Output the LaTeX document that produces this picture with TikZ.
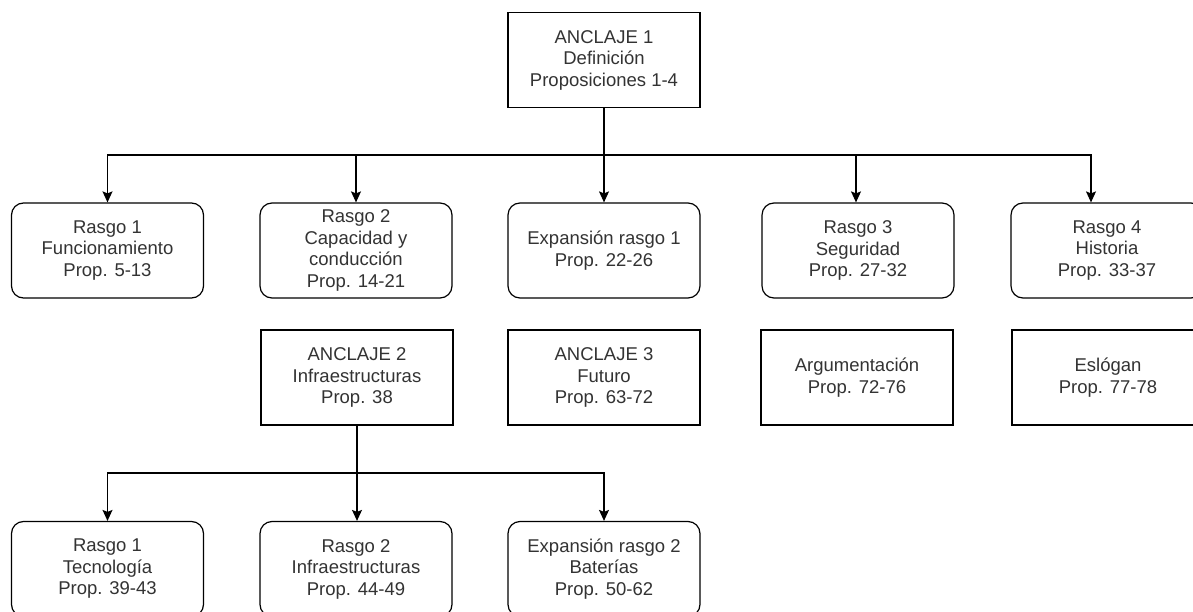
\documentclass[tikz,border=0pt]{standalone}
\usepackage{fontspec}
\setmainfont{Liberation Sans}
\usetikzlibrary{arrows.meta}
\definecolor{txt}{HTML}{333333}
\begin{document}
\begin{tikzpicture}[x=1pt,y=-1pt,
  box/.style={draw=black, line width=1.2pt, minimum width=192pt, minimum height=95pt,
    inner sep=0pt, align=center, text=txt, font=\fontsize{18.5}{21.5}\selectfont},
  rbox/.style={box, rounded corners=12pt},
  wire/.style={line width=1.2pt},
  link/.style={wire, -{Stealth[length=11pt,width=10pt,inset=2pt]}}]
\clip (0,0) rectangle (1193,612);
\fill[white] (0,0) rectangle (1193,612);

% top anchor
\node[box] (a1) at (604,60) {ANCLAJE 1\\Definición\\Proposiciones 1-4};

% first row of traits
\node[rbox] (r1) at (107.5,250.5) {Rasgo 1\\Funcionamiento\\Prop. 5-13};
\node[rbox] (r2) at (356,250.5) {Rasgo 2\\Capacidad y\\conducción\\Prop. 14-21};
\node[rbox] (r3) at (604,250.5) {Expansión rasgo 1\\Prop. 22-26};
\node[rbox] (r4) at (858,250.5) {Rasgo 3\\Seguridad\\Prop. 27-32};
\node[rbox] (r5) at (1107,250.5) {Rasgo 4\\Historia\\Prop. 33-37};

% second row of anchors
\node[box] (a2) at (357,377.5) {ANCLAJE 2\\Infraestructuras\\Prop. 38};
\node[box] (a3) at (604,377.5) {ANCLAJE 3\\Futuro\\Prop. 63-72};
\node[box] (arg) at (857,377.5) {Argumentación\\Prop. 72-76};
\node[box] (esl) at (1108,377.5) {Eslógan\\Prop. 77-78};

% third row
\node[rbox] (t1) at (107.5,569) {Rasgo 1\\Tecnología\\Prop. 39-43};
\node[rbox] (t2) at (356,569) {Rasgo 2\\Infraestructuras\\Prop. 44-49};
\node[rbox] (t3) at (604,569) {Expansión rasgo 2\\Baterías\\Prop. 50-62};

% connectors from the top anchor
\coordinate (bus) at (604,155);
\draw[link] (a1.south) -- (bus) -| (r1.north);
\draw[link] (a1.south) -- (bus) -| (r2.north);
\draw[link] (a1.south) -- (r3.north);
\draw[link] (a1.south) -- (bus) -| ([xshift=-2pt]r4.north);
\draw[link] (a1.south) -- (bus) -| ([xshift=-16pt]r5.north);

% connectors from the second anchor
\coordinate (bus2) at (357,473);
\draw[link] (a2.south) -- (bus2) -| (t1.north);
\draw[link] (a2.south) -- (t2.north -| bus2);
\draw[link] (a2.south) -- (bus2) -| (t3.north);
\end{tikzpicture}
\end{document}
